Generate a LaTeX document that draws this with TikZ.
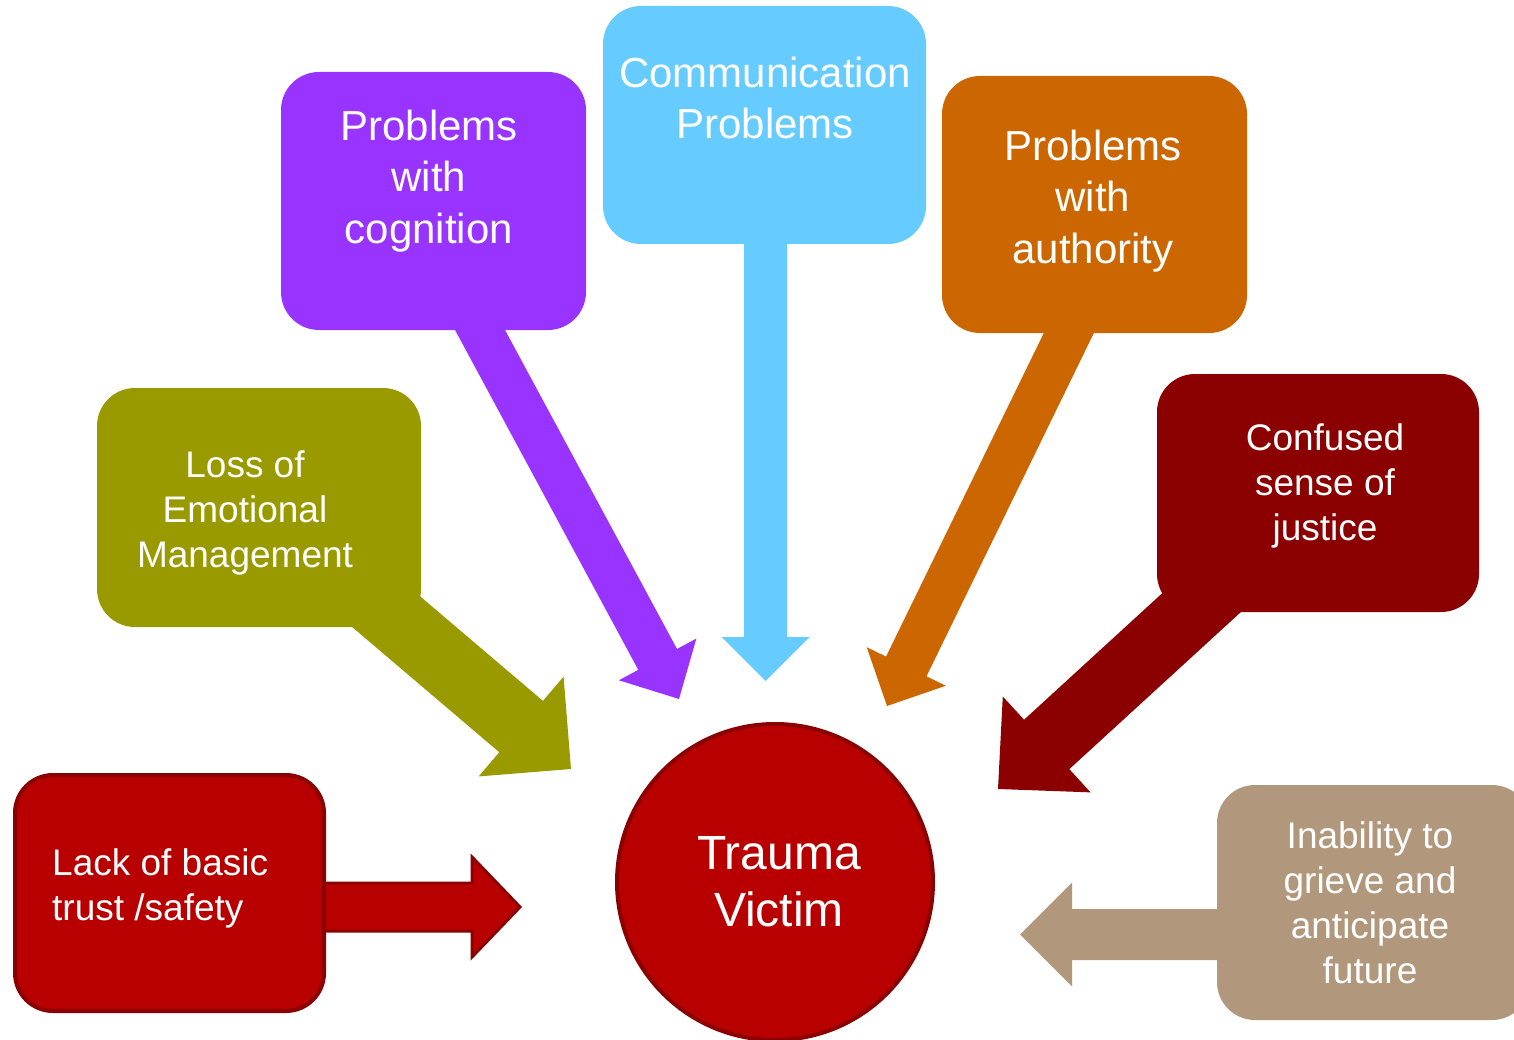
\documentclass[tikz,border=0pt]{standalone}
\usepackage{fontspec}
\setmainfont{Liberation Sans}
\usetikzlibrary{calc,backgrounds}

\pgfdeclarelayer{paper}
\pgfsetlayers{paper,background,main}

\definecolor{cogpurple}{HTML}{9933FF}
\definecolor{comblue}{HTML}{66CCFF}
\definecolor{autorange}{HTML}{CC6600}
\definecolor{condark}{HTML}{8B0000}
\definecolor{losolive}{HTML}{999900}
\definecolor{lackred}{HTML}{B80000}
\definecolor{lackline}{HTML}{8B0000}
\definecolor{inatan}{HTML}{B1987C}

% block arrow: #1 name, #2 style, #3 shaft start, #4 tip,
% #5 shaft half width, #6 head half width, #7 head length
\newcommand\blockarrow[7]{%
  \coordinate (#1-b) at ($(#4)!#7!(#3)$);
  \path[#2] ($(#3)!#5!90:(#4)$) -- ($(#1-b)!#5!90:(#4)$)
    -- ($(#1-b)!#6!90:(#4)$) -- (#4)
    -- ($(#1-b)!#6!-90:(#4)$) -- ($(#1-b)!#5!-90:(#4)$)
    -- ($(#3)!#5!-90:(#4)$) -- cycle;
}

\begin{document}
\begin{tikzpicture}[x=1pt,y=-1pt,
  box/.style={rectangle, rounded corners=38pt, inner sep=0pt, outer sep=0pt},
  bigtxt/.style={text=white, align=center, inner sep=0pt,
    font=\fontsize{42}{51.5}\selectfont},
  midtxt/.style={text=white, align=center, inner sep=0pt,
    font=\fontsize{37}{45}\selectfont},
  victxt/.style={text=white, align=center, inner sep=0pt,
    font=\fontsize{48}{57}\selectfont},
]
\useasboundingbox (0,0) rectangle (1514,1040);
\begin{pgfonlayer}{paper}
  \fill[white] (0,0) rectangle (1514,1040);
\end{pgfonlayer}
\clip (0,0) rectangle (1514,1040);

% central circle
\node[circle, draw=lackline, line width=4pt, fill=lackred, inner sep=0pt,
  outer sep=0pt, minimum size=316pt] (victim) at (775,882) {};
\node[victxt] (victimtxt) at ($(victim.center)+(4,0)$) {Trauma\\Victim};

% surrounding boxes
\node[box, fill=cogpurple, minimum width=305pt, minimum height=258pt] (cog) at (433.5,201) {};
\node[bigtxt] (cogtxt) at ($(cog.center)+(-4.5,-20)$) {Problems\\with\\cognition};

\node[box, fill=comblue, minimum width=323pt, minimum height=238pt] (com) at (764.5,125) {};
\node[bigtxt] (comtxt) at ($(com.center)+(0.5,-27)$) {Communication\\Problems};

\node[box, fill=autorange, minimum width=305pt, minimum height=257pt] (aut) at (1094.5,204.5) {};
\node[bigtxt] (auttxt) at ($(aut.center)+(-1.5,-3.5)$) {Problems\\with\\authority};

\node[box, fill=condark, minimum width=322pt, minimum height=238pt] (con) at (1318,493) {};
\node[midtxt] (context) at ($(con.center)+(7,-7)$) {Confused\\sense of\\justice};

\node[box, fill=losolive, minimum width=324pt, minimum height=239pt] (los) at (259,507.5) {};
\node[midtxt] (lostxt) at ($(los.center)+(-14,5.5)$) {Loss of\\Emotional\\Management};

\node[box, draw=lackline, line width=4pt, fill=lackred, minimum width=309pt,
  minimum height=236pt] (lac) at (169.5,893) {};
\node[midtxt, align=left, anchor=west] (lactxt) at ($(lac.west)+(37,-5)$) {Lack of basic\\trust /safety};

\node[box, fill=inatan, minimum width=313pt, minimum height=235pt] (ina) at (1373.5,902.5) {};
\node[midtxt] (inatxt) at ($(ina.center)+(-3.5,0.5)$) {Inability to\\grieve and\\anticipate\\future};

% arrow ends
\coordinate (cogS) at ($(cog.center)+(32.5,103)$);
\coordinate (cogT) at ($(victim.center)+(-96,-183)$);
\coordinate (comS) at ($(com.center)+(1,90)$);
\coordinate (comT) at ($(victim.center)+(-9.5,-201)$);
\coordinate (autS) at ($(aut.center)+(-12.5,101.5)$);
\coordinate (autT) at ($(victim.center)+(112,-176)$);
\coordinate (conS) at ($(con.center)+(-95,90)$);
\coordinate (conT) at ($(victim.center)+(223,-93)$);
\coordinate (losS) at ($(los.center)+(104,84.5)$);
\coordinate (losT) at ($(victim.center)+(-204,-113)$);
\coordinate (lacS) at ($(lac.center)+(130.5,14)$);
\coordinate (lacT) at ($(victim.center)+(-255,25)$);
\coordinate (inaS) at ($(ina.center)+(-128.5,32)$);
\coordinate (inaT) at ($(victim.center)+(245,52.5)$);

% block arrows behind the boxes
\begin{pgfonlayer}{background}
  \blockarrow{cogA}{fill=cogpurple}{cogS}{cogT}{22pt}{44pt}{45pt}
  \blockarrow{comA}{fill=comblue}{comS}{comT}{21.5pt}{44pt}{44pt}
  \blockarrow{autA}{fill=autorange}{autS}{autT}{22.5pt}{44pt}{44pt}
  \blockarrow{conA}{fill=condark}{conS}{conT}{33.5pt}{65pt}{66pt}
  \blockarrow{losA}{fill=losolive}{losS}{losT}{33.7pt}{65.5pt}{65.5pt}
  \blockarrow{lacA}{fill=lackred, draw=lackline, line width=3pt}{lacS}{lacT}{24pt}{50pt}{48pt}
  \blockarrow{inaA}{fill=inatan}{inaS}{inaT}{25.5pt}{52pt}{52pt}
\end{pgfonlayer}
\end{tikzpicture}
\end{document}
